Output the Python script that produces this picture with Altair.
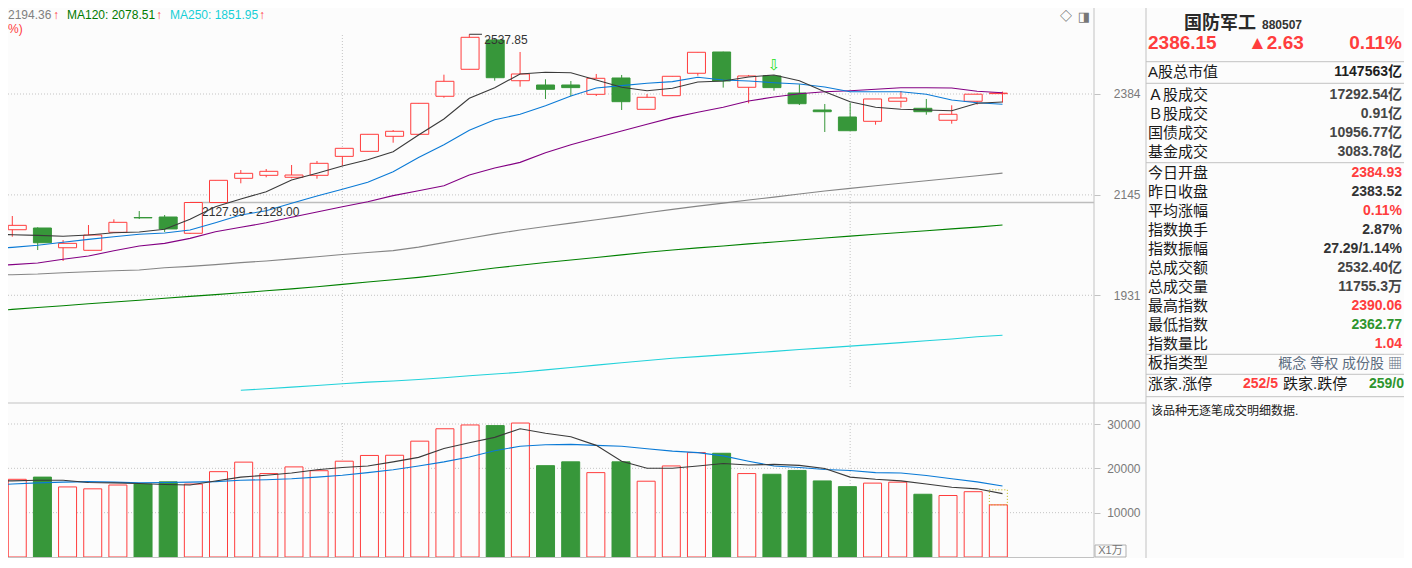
import altair as alt
import pandas as pd

# ---------------- layout / style constants ----------------
W, H = 1396, 550
AXX = 1086          # x of the main price/volume axis (plot coords)
PX = 1138           # left border of the info panel
BG = "#fcfcfc"
RED = "#ff3d3d"
GRN = "#37973a"
GRID = "#c4c4c4"
LINE = "#c2c2c2"
NUM = "Liberation Sans"
CJK = "Noto Sans CJK SC"
MIX = "Liberation Sans, Noto Sans CJK SC, DejaVu Sans"

# ---------------- data ----------------
idx = list(range(1, 41))
open_ = [2068.2, 2071.9, 2029.5, 2024.1, 2062.6, 2094.8, 2095.9, 2060.5, 2128.00, 2182.6,
         2189.4, 2184.9, 2189.4, 2233.3, 2245.1, 2280.7, 2285.5, 2378.3, 2446.5, 2522.7,
         2417.4, 2406.6, 2406.6, 2383.2, 2424.3, 2346.1, 2379.8, 2436.3, 2491.2, 2400.8,
         2429.4, 2386.5, 2344.4, 2327.3, 2316.8, 2365.9, 2348.6, 2319.3, 2365.9, 2384.93]
high = [2098.1, 2073.5, 2046.0, 2078.4, 2090.8, 2109.1, 2100.3, 2127.99, 2178.0, 2201.6,
        2203.9, 2213.2, 2222.5, 2252.2, 2285.5, 2295.8, 2360.9, 2432.7, 2537.85, 2525.0,
        2491.2, 2421.0, 2416.7, 2434.5, 2432.0, 2384.0, 2428.6, 2490.4, 2492.0, 2432.0,
        2431.0, 2408.3, 2359.2, 2362.4, 2371.6, 2391.5, 2371.6, 2356.0, 2385.0, 2390.06]
low = [2053.1, 2024.7, 2001.6, 2024.1, 2062.6, 2091.5, 2063.3, 2059.0, 2128.00, 2171.2,
       2184.9, 2182.6, 2181.7, 2211.5, 2245.1, 2265.5, 2285.5, 2374.8, 2446.5, 2417.4,
       2402.3, 2371.6, 2378.3, 2379.0, 2344.4, 2346.1, 2379.8, 2430.2, 2400.0, 2360.9,
       2392.3, 2356.7, 2291.0, 2294.1, 2308.6, 2350.4, 2332.9, 2311.0, 2357.6, 2362.77]
close = [2077.7, 2040.2, 2038.9, 2056.8, 2084.3, 2094.0, 2069.8, 2127.99, 2178.0, 2194.0,
         2198.6, 2190.1, 2217.1, 2252.2, 2285.5, 2292.7, 2360.9, 2415.9, 2529.8, 2425.0,
         2434.5, 2395.8, 2400.0, 2423.5, 2364.9, 2375.8, 2428.6, 2490.4, 2416.7, 2429.4,
         2400.0, 2359.9, 2340.2, 2294.1, 2371.6, 2374.1, 2340.2, 2333.9, 2383.52, 2386.15]
volume = [17527, 18022, 15806, 15376, 16237, 16452, 16946, 16452, 19247, 21398,
          18817, 20323, 19462, 21613, 22903, 22950, 26129, 28925, 29785, 29634,
          30215, 20602, 21462, 19032, 21462, 17097, 20538, 23548, 23398, 18817,
          18667, 19527, 17161, 15871, 16667, 16882, 14151, 13871, 14731, 11755]
vol_projected = 15150

ma_idx = list(range(0, 41))
ma5 = [2058.9, 2057.4, 2056.1, 2054.0, 2056.8, 2061.8, 2063.3, 2069.1, 2090.8, 2118.7,
       2135.8, 2152.2, 2178.7, 2194.0, 2210.8, 2225.5, 2244.2, 2283.8, 2322.4, 2373.3,
       2399.8, 2434.5, 2438.8, 2437.8, 2419.2, 2400.8, 2392.2, 2398.3, 2414.1, 2416.7,
       2426.9, 2432.0, 2417.4, 2389.7, 2364.9, 2351.1, 2346.1, 2344.4, 2342.7, 2361.0, 2364.3]
ma10 = [2026.2, 2030.4, 2034.7, 2041.1, 2047.5, 2053.1, 2058.3, 2061.1, 2067.6, 2083.5,
        2100.3, 2109.8, 2126.2, 2142.7, 2157.6, 2173.5, 2197.7, 2230.5, 2260.7, 2295.1,
        2320.7, 2333.9, 2355.0, 2379.0, 2399.1, 2404.9, 2411.0, 2415.0, 2426.2, 2419.2,
        2416.7, 2412.4, 2409.1, 2401.5, 2389.8, 2389.8, 2389.8, 2383.2, 2369.1, 2362.4, 2358.4]
ma20 = [1991.2, 1993.9, 1997.4, 2005.2, 2012.0, 2023.2, 2033.2, 2038.9, 2049.6, 2063.9,
        2073.4, 2083.4, 2095.2, 2106.9, 2118.7, 2129.8, 2143.3, 2154.4, 2165.8, 2190.1,
        2206.2, 2219.3, 2241.8, 2260.7, 2277.4, 2293.4, 2309.6, 2325.7, 2338.8, 2351.1,
        2366.6, 2376.5, 2384.8, 2389.7, 2392.3, 2395.7, 2399.8, 2399.8, 2399.1, 2390.8, 2387.3]
ma60 = [1971.8, 1973.1, 1974.5, 1977.2, 1979.3, 1981.1, 1982.8, 1987.6, 1990.3, 1993.9,
        1998.1, 2001.6, 2006.0, 2010.5, 2015.1, 2019.3, 2023.4, 2030.9, 2040.4, 2049.9,
        2059.2, 2067.6, 2075.2, 2082.5, 2090.0, 2097.4, 2105.3, 2112.8, 2120.0, 2126.7,
        2133.6, 2140.1, 2147.0, 2153.8, 2159.8, 2165.7, 2171.4, 2177.1, 2182.8, 2188.5, 2194.36]
ma120 = [1898.9, 1902.7, 1906.5, 1910.1, 1913.9, 1917.5, 1921.1, 1924.9, 1928.8, 1932.4,
         1936.1, 1940.1, 1943.9, 1948.2, 1953.1, 1957.9, 1962.6, 1967.6, 1973.6, 1980.1,
         1987.0, 1992.6, 1998.3, 2003.7, 2009.0, 2014.4, 2019.9, 2024.9, 2029.2, 2033.4,
         2037.7, 2041.7, 2046.0, 2050.3, 2054.4, 2058.3, 2062.2, 2066.1, 2070.0, 2073.9, 2078.51]
ma250_idx = list(range(10, 41))
ma250 = [1748.1, 1751.0, 1754.0, 1757.0, 1760.2, 1763.2, 1765.2, 1767.9, 1771.3, 1774.9,
         1778.1, 1781.6, 1785.9, 1790.4, 1794.9, 1799.2, 1803.5, 1807.7, 1810.9, 1814.2,
         1817.6, 1820.8, 1824.3, 1827.5, 1830.9, 1834.3, 1837.7, 1841.2, 1844.6, 1848.9, 1851.95]
vol_ma5 = [17250, 17161, 17312, 17312, 16796, 16731, 16581, 16366, 16237, 17161,
           18022, 18452, 18946, 19677, 20172, 20538, 21462, 22473, 24473, 25763,
           26989, 28925, 27914, 27118, 25183, 21613, 20022, 20022, 20538, 21097,
           20753, 20882, 20667, 19957, 18022, 17527, 17161, 16452, 15720, 15376, 14301]
vol_ma10 = [16250, 16452, 16731, 16882, 17011, 16882, 16731, 16796, 16882, 17011,
            17312, 17441, 17656, 18022, 18452, 19032, 19677, 20538, 21462, 22538,
            23978, 24968, 25333, 25398, 25183, 24968, 24409, 23892, 23548, 22817,
            21613, 20538, 20172, 19742, 19527, 19032, 18946, 18387, 17656, 16946, 16022]

price_ticks = [1931, 2145, 2384]
vol_ticks = [10000, 20000, 30000]
month_starts = [14, 34]
gap_day, gap_low, gap_high = 8, 2127.99, 2128.00
peak_day, peak_value = 19, 2537.85
signal_day = 31

info_labels = ["A股总市值", "Ａ股成交", "Ｂ股成交", "国债成交", "基金成交",
               "今日开盘", "昨日收盘", "平均涨幅", "指数换手", "指数振幅",
               "总成交额", "总成交量", "最高指数", "最低指数", "指数量比",
               "板指类型", "涨家.涨停"]
info_values = ["1147563亿", "17292.54亿", "0.91亿", "10956.77亿", "3083.78亿",
               "2384.93", "2383.52", "0.11%", "2.87%", "27.29/1.14%",
               "2532.40亿", "11755.3万", "2390.06", "2362.77", "1.04", "", ""]
info_kind = ["strong", "dim", "dim", "dim", "dim",
             "up", "plain", "up", "plain", "plain",
             "dim", "dim", "up", "down", "up", "none", "none"]
info_group = ["g0", "g1", "g1", "g1", "g1"] + ["g2"] * 11 + ["g3"]

# ---------------- frames ----------------
cdf = pd.DataFrame({"i": idx, "open": open_, "high": high, "low": low,
                    "close": close, "vol": volume})
cdf["col"] = [RED if c >= o else GRN for o, c in zip(open_, close)]
cdf["fillc"] = [BG if c >= o else GRN for o, c in zip(open_, close)]

xs = alt.Scale(domain=[0.8306, 43.604], range=[0, AXX], nice=False, zero=False)
ps = alt.Scale(type="log", domain=[1730.48, 2608.62], range=[392, 0], nice=False)
vs = alt.Scale(domain=[0, 30000], range=[549, 416], nice=False, zero=False)


def X(f):
    return alt.X(f, scale=xs, axis=None)


def PY(f, axis=None):
    return alt.Y(f, scale=ps, axis=axis)


def VY(f, axis=None):
    return alt.Y(f, scale=vs, axis=axis)


def axis_for(values):
    return alt.Axis(orient="right", offset=AXX - W, values=values, format="d",
                    grid=False, domain=False, ticks=True, tickSize=6, tickColor=LINE,
                    labelAlign="right", labelBaseline="middle", labelPadding=40,
                    labelColor="#7a7a7a", labelFont=NUM, labelFontSize=12,
                    labelOverlap=False, title=None)


one = pd.DataFrame({"d": [0]})


def rule(x1, y1, x2, y2, color=LINE, width=1.0, dash=None):
    kw = dict(color=color, strokeWidth=width)
    if dash:
        kw["strokeDash"] = dash
    return alt.Chart(one).mark_rule(**kw).encode(
        x=alt.value(x1), y=alt.value(y1), x2=alt.value(x2), y2=alt.value(y2))


def label(x, y, s, **kw):
    kw.setdefault("baseline", "middle")
    kw.setdefault("align", "left")
    return alt.Chart(one).mark_text(text=s, **kw).encode(x=alt.value(x), y=alt.value(y))


layers = []

# grids (carry the axes)
layers.append(alt.Chart(pd.DataFrame({"v": price_ticks})).mark_rule(
    color=GRID, strokeDash=[1, 2]).encode(
    y=PY("v:Q", axis_for(price_ticks)), x=alt.value(0), x2=alt.value(AXX)))
layers.append(alt.Chart(pd.DataFrame({"v": vol_ticks})).mark_rule(
    color=GRID, strokeDash=[1, 2]).encode(
    y=VY("v:Q", axis_for(vol_ticks)), x=alt.value(0), x2=alt.value(AXX)))
mdf = pd.DataFrame({"i": month_starts})
layers.append(alt.Chart(mdf).mark_rule(color=GRID, strokeDash=[1, 2]).encode(
    x=X("i:Q"), y=alt.value(27), y2=alt.value(380)))
layers.append(alt.Chart(mdf).mark_rule(color=GRID, strokeDash=[1, 2]).encode(
    x=X("i:Q"), y=alt.value(415), y2=alt.value(549)))

# gap line
gdf = pd.DataFrame({"i": [gap_day], "p": [gap_high],
                    "label": [f"{gap_low:.2f} - {gap_high:.2f}"]})
layers.append(alt.Chart(gdf).mark_rule(color="#bdbdbd", strokeWidth=1.3).encode(
    x=X("i:Q"), x2=alt.value(AXX), y=PY("p:Q")))

# candles
layers.append(alt.Chart(cdf).mark_rule(strokeWidth=1).encode(
    x=X("i:Q"), y=PY("high:Q"), y2=alt.Y2("low:Q"),
    color=alt.Color("col:N", scale=None)))
layers.append(alt.Chart(cdf).mark_bar(size=18, strokeWidth=1).encode(
    x=X("i:Q"), y=PY("open:Q"), y2=alt.Y2("close:Q"),
    fill=alt.Fill("fillc:N", scale=None), stroke=alt.Stroke("col:N", scale=None)))


def line(ix, vals, color, yfun, width=1.1):
    d = pd.DataFrame({"i": ix, "v": vals})
    return alt.Chart(d).mark_line(color=color, strokeWidth=width).encode(
        x=X("i:Q"), y=yfun("v:Q"))


layers += [
    line(ma250_idx, ma250, "#22d2da", PY),
    line(ma_idx, ma120, "#008000", PY),
    line(ma_idx, ma60, "#858585", PY),
    line(ma_idx, ma20, "#830083", PY),
    line(ma_idx, ma10, "#0a7ad6", PY),
    line(ma_idx, ma5, "#3a3a3a", PY),
]

# annotations in the price panel
layers.append(alt.Chart(gdf).mark_text(align="left", baseline="middle", dx=12, dy=10,
                                       font=NUM, fontSize=12, color="#333333").encode(
    x=X("i:Q"), y=PY("p:Q"), text="label:N"))
pk = pd.DataFrame({"i": [peak_day], "p": [peak_value], "t": [f"{peak_value:.2f}"]})
layers.append(alt.Chart(pk).mark_text(align="left", baseline="middle", dx=15, dy=6,
                                      font=NUM, fontSize=12, color="#333333").encode(
    x=X("i:Q"), y=PY("p:Q"), text="t:N"))
layers.append(alt.Chart(pk).mark_rule(color="#333333", strokeWidth=1).encode(
    x=X("i:Q"), y=PY("p:Q"), x2=alt.value(474.0), y2=alt.Y2("p:Q")))
sg = cdf[cdf.i == signal_day][["i", "high"]]
layers.append(alt.Chart(sg).mark_text(text="⇩", align="center", baseline="middle", dy=-10,
                                      font="DejaVu Sans", fontSize=15, color="#1ee01e").encode(
    x=X("i:Q"), y=PY("high:Q")))

# volume panel
layers.append(alt.Chart(cdf).mark_bar(size=18, strokeWidth=1).encode(
    x=X("i:Q"), y=VY("vol:Q"), y2=alt.datum(0),
    fill=alt.Fill("fillc:N", scale=None), stroke=alt.Stroke("col:N", scale=None)))
pj = pd.DataFrame({"i": [idx[-1]], "a": [volume[-1]], "b": [vol_projected]})
layers.append(alt.Chart(pj).mark_bar(size=18, strokeWidth=1, fillOpacity=0,
                                     stroke="#c2b400", strokeDash=[1, 2]).encode(
    x=X("i:Q"), y=VY("a:Q"), y2=alt.Y2("b:Q")))
layers += [
    line(ma_idx, vol_ma10, "#0a7ad6", VY),
    line(ma_idx, vol_ma5, "#3a3a3a", VY),
]

# frame lines
layers += [
    rule(AXX, 0, AXX, H),
    rule(PX, 0, PX, H),
    rule(0, 395, PX, 395),
    rule(0, 549.5, AXX, 549.5),
    rule(PX, 53.7, W, 53.7),
    rule(PX, 75.3, W, 75.3),
    rule(PX, 154.7, W, 154.7),
    rule(PX, 346.3, W, 346.3),
    rule(PX, 366.3, W, 366.3),
    rule(PX, 388.7, W, 388.7),
]
layers.append(alt.Chart(one).mark_rect(fillOpacity=0, stroke="#b0b0b0", strokeWidth=1).encode(
    x=alt.value(1087), x2=alt.value(1118), y=alt.value(537), y2=alt.value(549)))
layers.append(label(1102.5, 543, "X1万", align="center", font=MIX, fontSize=11, color="#777777"))

# header of the price panel
layers += [
    label(0, 7, "2194.36", font=NUM, fontSize=12, color="#808080"),
    label(45, 7, "↑", font=MIX, fontSize=12, color=RED),
    label(59, 7, "MA120: 2078.51", font=NUM, fontSize=12, color="#007a00"),
    label(148, 7, "↑", font=MIX, fontSize=12, color=RED),
    label(162, 7, "MA250: 1851.95", font=NUM, fontSize=12, color="#16cfd6"),
    label(251, 7, "↑", font=MIX, fontSize=12, color=RED),
    label(0, 21, "%)", font=NUM, fontSize=12, color=RED),
    label(1058, 9, "◇", align="center", font=MIX, fontSize=12, color="#555555"),
    label(1076, 9, "◨", align="center", font=MIX, fontSize=13, color="#777777"),
]

# info panel
layers += [
    label(1212, 21, "国防军工", align="center", baseline="alphabetic", font=MIX,
          fontSize=18, fontWeight="bold", color="#2a2a2a"),
    label(1254, 21, "880507", baseline="alphabetic", font=NUM, fontSize=12,
          fontWeight="bold", color="#333333"),
    label(1140, 41, "2386.15", baseline="alphabetic", font=NUM, fontSize=19,
          fontWeight="bold", color=RED),
    label(1240, 41, "▲2.63", baseline="alphabetic", font=MIX, fontSize=19,
          fontWeight="bold", color=RED),
    label(1394, 41, "0.11%", align="right", baseline="alphabetic", font=NUM, fontSize=19,
          fontWeight="bold", color=RED),
]

kind_color = {"strong": "#1e1e1e", "dim": "#454545", "plain": "#333333",
              "up": RED, "down": "#2e952e", "none": "#333333"}
idf = pd.DataFrame({"k": list(range(len(info_labels))), "label": info_labels,
                    "value": info_values, "grp": info_group,
                    "vc": [kind_color[k] for k in info_kind]})
yi = alt.Y("k:Q", scale=alt.Scale(domain=[5, 14], range=[165.3, 336.0], nice=False, zero=False),
           axis=None)
for grp, dy in [("g0", -6.2), ("g1", -2.6), ("g2", 0.0), ("g3", 2.3)]:
    sub = idf[idf.grp == grp]
    layers.append(alt.Chart(sub).mark_text(align="left", baseline="middle", dy=dy, font=MIX,
                                           fontSize=15, color="#1a1a1a").encode(
        x=alt.value(1140), y=yi, text="label:N"))
    layers.append(alt.Chart(sub).mark_text(align="right", baseline="middle", dy=dy, font=MIX,
                                           fontSize=14, fontWeight="bold").encode(
        x=alt.value(1394), y=yi, text="value:N", color=alt.Color("vc:N", scale=None)))

layers += [
    label(1394, 355.7, "概念 等权 成份股 ▦", align="right", font=MIX, fontSize=14,
          color="#5d6d80"),
    label(1235, 376.3, "252/5", font=NUM, fontSize=14, fontWeight="bold", color=RED),
    label(1275, 376.3, "跌家.跌停", font=MIX, fontSize=15, color="#1a1a1a"),
    label(1396, 376.3, "259/0", align="right", font=NUM, fontSize=14, fontWeight="bold",
          color="#2e952e"),
    label(1143, 403, "该品种无逐笔成交明细数据.", font=MIX, fontSize=12, color="#222222"),
]

chart = alt.layer(*layers).resolve_scale(x="independent", y="independent").properties(
    width=W, height=H, padding=0, autosize=alt.AutoSizeParams(type="none"), background=BG
).configure_view(stroke=None)

chart.save("out.html", embed_options={"renderer": "svg", "actions": False})
